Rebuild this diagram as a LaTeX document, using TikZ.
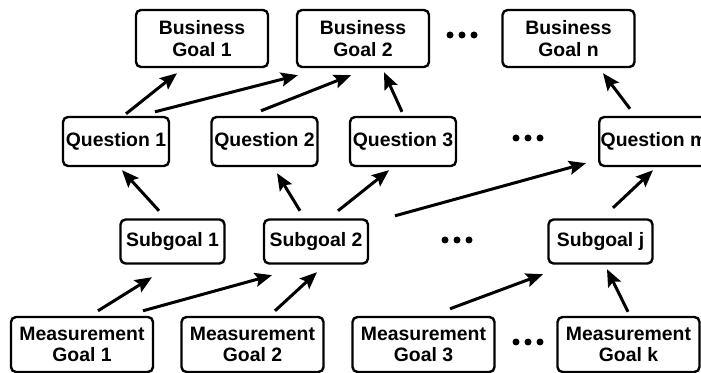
\documentclass[tikz,border=0pt]{standalone}
\usepackage{fontspec}
\setmainfont{Liberation Sans}
\usetikzlibrary{arrows.meta,calc}
\begin{document}
\begin{tikzpicture}[x=0.5pt,y=0.5pt,
  box/.style={draw, line width=1.2pt, rounded corners=2.5pt, align=center, inner sep=0.75pt,
    font=\fontsize{9.7pt}{10.9pt}\selectfont\bfseries},
  bgbox/.style={box, minimum width=66pt, minimum height=28.5pt},
  qbox/.style={box, minimum width=53pt, minimum height=24.5pt},
  sgbox/.style={box, minimum width=52pt, minimum height=22pt},
  mgbox/.style={box, minimum width=71pt, minimum height=27.5pt},
  link/.style={line width=1.5pt, -{Stealth[length=8.5pt,width=7pt,inset=1.5pt]}},
  ell/.style={fill=black}]
\useasboundingbox (0,0) rectangle (701,-373);
% business goals
\node[bgbox] (bg1) at (202,-38.5) {Business\\Goal 1};
\node[bgbox] (bg2) at (363,-38.5) {Business\\Goal 2};
\node[bgbox] (bgn) at (568.5,-38.5) {Business\\Goal n};
% questions
\node[qbox] (q1) at (116,-141.5) {Question 1};
\node[qbox] (q2) at (264.5,-141.5) {Question 2};
\node[qbox] (q3) at (403,-141.5) {Question 3};
\node[qbox, anchor=west] (qm) at (598,-141.5) {Question m};
% subgoals
\node[sgbox] (sg1) at (172.5,-241.5) {Subgoal 1};
\node[sgbox] (sg2) at (316,-241.5) {Subgoal 2};
\node[sgbox] (sgj) at (600.5,-241.5) {Subgoal j};
% measurement goals
\node[mgbox] (mg1) at (82,-344.5) {Measurement\\Goal 1};
\node[mgbox] (mg2) at (252.5,-344.5) {Measurement\\Goal 2};
\node[mgbox] (mg3) at (423.5,-344.5) {Measurement\\Goal 3};
\node[mgbox] (mgk) at (628.5,-344.5) {Measurement\\Goal k};
% ellipses
\foreach \cx/\cy in {462/35, 528/138, 457/240, 528/342}{
  \foreach \d in {-12,0,12}{
    \fill[ell] (\cx+\d,-\cy) circle (3.5);
  }
}
% arrows
\draw[link] ($(q1.north)+(10,2)$) -- ($(bg1.south)+(-25,-5)$);
\draw[link] ($(q1.north)+(39,4)$) -- ($(bg2.south)+(-65,-7)$);
\draw[link] ($(q2.north)+(-3.5,5)$) -- ($(bg2.south)+(-12,-7)$);
\draw[link] ($(q3.north)+(-1,4)$) -- ($(bg2.south)+(21,-4)$);
\draw[link] ($(qm.north west)+(32,7)$) -- ($(bgn.south)+(34.5,-5)$);
\draw[link] ($(sg1.north)+(-13.5,7.5)$) -- ($(q1.south)+(6,-3)$);
\draw[link] ($(sg2.north)+(-16,7.5)$) -- ($(q2.south)+(12.5,-6)$);
\draw[link] ($(sg2.north)+(22,7.5)$) -- ($(q3.south)+(-14,-3)$);
\draw[link] ($(sg2.north)+(79,2.5)$) -- ($(qm.south west)+(-12,4)$);
\draw[link] ($(sgj.north)+(12.5,10.5)$) -- ($(qm.south west)+(55,-3)$);
\draw[link] ($(mg1.north)+(16,5)$) -- ($(sg1.south)+(-20.5,-12.5)$);
\draw[link] ($(mg1.north)+(61,5)$) -- ($(sg2.south)+(-44,-10.5)$);
\draw[link] ($(mg2.north)+(22.5,5)$) -- ($(sg2.south)+(1,-7.5)$);
\draw[link] ($(mg3.north)+(26.5,7)$) -- ($(sgj.south)+(-57.5,-9.5)$);
\draw[link] ($(mgk.north)+(-0.5,4)$) -- ($(sgj.south)+(6.5,-4.5)$);
\end{tikzpicture}
\end{document}
